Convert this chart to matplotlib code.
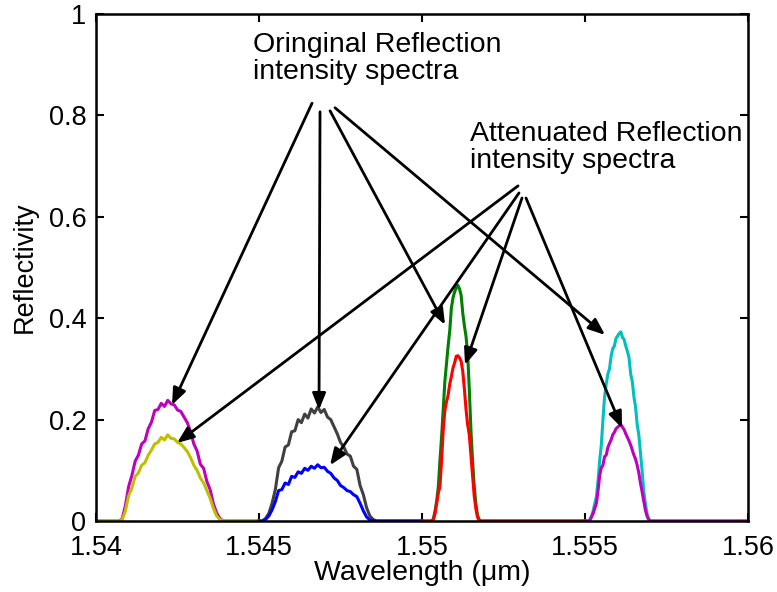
import numpy as np
import matplotlib
matplotlib.use('Agg')
import matplotlib.pyplot as plt
from matplotlib.ticker import FormatStrFormatter

plt.rcParams['font.family'] = ['Liberation Sans', 'DejaVu Sans']

# wavelength grids (um) and reflectivity
seg_edges = [1.540, 1.545, 1.550, 1.555, 1.560]

wl1 = np.round(np.arange(33) * 0.0001 + 1.5407, 5)
orig1 = [0, 0.004, 0.03, 0.068, 0.09, 0.118, 0.13, 0.152, 0.158, 0.182, 0.195,
         0.218, 0.22, 0.232, 0.226, 0.238, 0.231, 0.229, 0.219, 0.216, 0.205,
         0.194, 0.176, 0.152, 0.138, 0.112, 0.104, 0.078, 0.062, 0.034, 0.016,
         0.005, 0]
att1 = [0, 0.002, 0.02, 0.05, 0.065, 0.088, 0.095, 0.11, 0.115, 0.13, 0.14,
        0.152, 0.155, 0.165, 0.16, 0.17, 0.163, 0.162, 0.155, 0.152, 0.145,
        0.137, 0.125, 0.11, 0.1, 0.085, 0.075, 0.06, 0.045, 0.025, 0.01,
        0.003, 0]

wl2 = np.round(np.arange(37) * 0.0001 + 1.5450, 5)
orig2 = [0, 0, 0.005, 0.015, 0.035, 0.062, 0.105, 0.118, 0.146, 0.15, 0.176,
         0.178, 0.2, 0.194, 0.211, 0.203, 0.221, 0.213, 0.225, 0.214, 0.22,
         0.205, 0.2, 0.186, 0.172, 0.155, 0.146, 0.132, 0.128, 0.108, 0.102,
         0.07, 0.052, 0.026, 0.01, 0.003, 0]
att2 = [0, 0, 0.003, 0.01, 0.022, 0.038, 0.06, 0.062, 0.075, 0.072, 0.088,
        0.086, 0.097, 0.094, 0.104, 0.1, 0.108, 0.104, 0.111, 0.105, 0.106,
        0.098, 0.094, 0.085, 0.08, 0.07, 0.066, 0.06, 0.058, 0.052, 0.048,
        0.035, 0.02, 0.008, 0.002, 0.001, 0]

wl3 = np.round(np.arange(31) * 0.00005 + 1.5503, 5)
orig3 = [0, 0.005, 0.02, 0.04, 0.068, 0.12, 0.166, 0.22, 0.275, 0.31, 0.345,
         0.375, 0.42, 0.44, 0.452, 0.46, 0.465, 0.458, 0.445, 0.41, 0.385,
         0.364, 0.33, 0.26, 0.18, 0.12, 0.07, 0.035, 0.012, 0.003, 0]
att3 = [0, 0.003, 0.015, 0.035, 0.055, 0.068, 0.12, 0.18, 0.218, 0.235, 0.248,
        0.27, 0.285, 0.302, 0.312, 0.325, 0.326, 0.322, 0.315, 0.295, 0.26,
        0.22, 0.19, 0.17, 0.13, 0.09, 0.05, 0.025, 0.008, 0.002, 0]

wl4 = np.round(np.arange(39) * 0.00005 + 1.5551, 5)
orig4 = [0, 0.003, 0.01, 0.02, 0.035, 0.048, 0.08, 0.12, 0.15, 0.2, 0.245,
         0.27, 0.29, 0.3, 0.325, 0.34, 0.345, 0.36, 0.365, 0.37, 0.373, 0.362,
         0.358, 0.345, 0.335, 0.322, 0.29, 0.275, 0.245, 0.225, 0.19, 0.17,
         0.135, 0.1, 0.06, 0.035, 0.015, 0.005, 0]
att4 = [0, 0.002, 0.008, 0.015, 0.025, 0.035, 0.06, 0.09, 0.105, 0.11, 0.127,
        0.13, 0.145, 0.153, 0.16, 0.17, 0.175, 0.182, 0.185, 0.188, 0.19,
        0.185, 0.18, 0.172, 0.165, 0.158, 0.15, 0.14, 0.13, 0.122, 0.11,
        0.095, 0.075, 0.058, 0.04, 0.022, 0.01, 0.003, 0]

grids = [wl1, wl2, wl3, wl4]
originals = [orig1, orig2, orig3, orig4]
attenuated = [att1, att2, att3, att4]
orig_colors = ['#bf00bf', '#404040', '#008000', '#00bfbf']
att_colors = ['#bfbf00', '#0000ff', '#ff0000', '#bf00bf']

fig = plt.figure(figsize=(7.77, 5.92), dpi=100)
ax = fig.add_axes([0.1236, 0.1199, 0.8391, 0.8565])

for i in range(4):
    x = np.concatenate([[seg_edges[i]], grids[i], [seg_edges[i + 1]]])
    ax.plot(x, np.concatenate([[0], originals[i], [0]]), color=orig_colors[i], lw=2.2)
for i in range(4):
    x = np.concatenate([[seg_edges[i]], grids[i], [seg_edges[i + 1]]])
    ax.plot(x, np.concatenate([[0], attenuated[i], [0]]), color=att_colors[i], lw=2.2)

# arrows: (start, tip) in data units
orig_arrows = [((1.546626, 0.824), (1.542331, 0.229)),
               ((1.546871, 0.807), (1.546840, 0.219)),
               ((1.547178, 0.809), (1.550706, 0.387)),
               ((1.547331, 0.815), (1.555614, 0.367))]
att_arrows = [((1.552945, 0.661), (1.542485, 0.154)),
              ((1.552975, 0.647), (1.547178, 0.110)),
              ((1.553067, 0.637), (1.551319, 0.308)),
              ((1.553190, 0.637), (1.556135, 0.183))]
for start, tip in orig_arrows + att_arrows:
    ax.annotate('', xy=tip, xytext=start,
                arrowprops=dict(arrowstyle='-|>,head_length=1.0,head_width=0.4',
                                color='black', lw=2, shrinkA=0, shrinkB=0))

ax.text(1.544816, 0.912, 'Oringinal Reflection\nintensity spectra',
        fontsize=20.5, va='center', ha='left', linespacing=1.05)
ax.text(1.551472, 0.737, 'Attenuated Reflection\nintensity spectra',
        fontsize=20.5, va='center', ha='left', linespacing=1.05)

ax.set_xlim(1.54, 1.56)
ax.set_ylim(0, 1)
ax.set_xticks([1.54, 1.545, 1.55, 1.555, 1.56])
ax.set_yticks([0, 0.2, 0.4, 0.6, 0.8, 1])
ax.xaxis.set_major_formatter(FormatStrFormatter('%g'))
ax.yaxis.set_major_formatter(FormatStrFormatter('%g'))
ax.tick_params(direction='in', top=True, right=True, length=6, width=1.5,
               labelsize=19.5)
ax.tick_params(axis='x', pad=10)
ax.tick_params(axis='y', pad=7)
for s in ax.spines.values():
    s.set_linewidth(1.8)
ax.set_xlabel('Wavelength (μm)', fontsize=20.5, labelpad=-1)
ax.set_ylabel('Reflectivity', fontsize=19.5, labelpad=8)

fig.savefig('out.png', dpi=100)
